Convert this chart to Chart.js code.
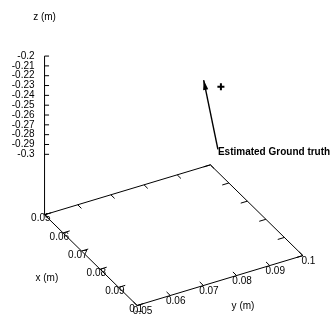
<!DOCTYPE html>
<html>
<head>
<meta charset="utf-8">
<script src="https://cdn.jsdelivr.net/npm/chart.js@4"></script>
<style>
  html, body { margin: 0; padding: 0; background: #fff; }
</style>
</head>
<body>
<canvas id="chart" width="333" height="327"></canvas>
<script>
// 축 눈금
const xTicks = [0.05, 0.06, 0.07, 0.08, 0.09, 0.1];
const yTicks = [0.05, 0.06, 0.07, 0.08, 0.09, 0.1];
const zTicks = [-0.2, -0.21, -0.22, -0.23, -0.24, -0.25, -0.26, -0.27, -0.28, -0.29, -0.3];

// 축 범위
const xRange = [0.05, 0.1];
const yRange = [0.05, 0.1];
const zRange = [-0.3, -0.2];
const zBase = -0.3615;

// 데이터 (x, y, z)
const arrowTail = [0.06, 0.0967, -0.324];
const arrowHead = [0.06, 0.0924, -0.249];
const estimated = [0.06, 0.0976, -0.261];
const arrowLabel = 'Estimated Ground truth';

// 시점 (3D -> 2D 투영)
const view = { ox: 40, oy: 216.7, xu: [96, 94.2], yu: [172, -51.8], zu: -1020 };

const FONT = '10px "Liberation Sans", Arial, sans-serif';

function project(x, y, z) {
  const nx = (x - xRange[0]) / (xRange[1] - xRange[0]);
  const ny = (y - yRange[0]) / (yRange[1] - yRange[0]);
  return {
    x: view.ox + nx * view.xu[0] + ny * view.yu[0],
    y: view.oy + nx * view.xu[1] + ny * view.yu[1] + (z - zBase) * view.zu
  };
}

// 바닥 사각형
const boxPoints = [
  project(xRange[0], yRange[0], zBase),
  project(xRange[1], yRange[0], zBase),
  project(xRange[1], yRange[1], zBase),
  project(xRange[0], yRange[1], zBase),
  project(xRange[0], yRange[0], zBase)
];

// z 축
const zAxisPoints = [
  project(xRange[0], yRange[0], zBase),
  project(xRange[0], yRange[0], zRange[1])
];

const arrowPoints = [project(...arrowTail), project(...arrowHead)];

// 눈금, 라벨, 화살촉 그리기
const axisPlugin = {
  id: 'axis3d',
  afterDatasetsDraw(chart) {
    const ctx = chart.ctx;
    const sx = chart.scales.x;
    const sy = chart.scales.y;
    const px = p => ({ x: sx.getPixelForValue(p.x), y: sy.getPixelForValue(p.y) });
    const dx = xRange[1] - xRange[0];
    const dy = yRange[1] - yRange[0];

    ctx.save();
    ctx.strokeStyle = '#000';
    ctx.fillStyle = '#000';
    ctx.lineWidth = 1;
    ctx.font = FONT;

    const seg = (a, b) => {
      const p = px(a), q = px(b);
      ctx.beginPath();
      ctx.moveTo(p.x, p.y);
      ctx.lineTo(q.x, q.y);
      ctx.stroke();
    };

    // z 눈금
    ctx.textAlign = 'right';
    ctx.textBaseline = 'middle';
    zTicks.forEach(t => {
      const p = px(project(xRange[0], yRange[0], t));
      ctx.beginPath();
      ctx.moveTo(p.x, p.y);
      ctx.lineTo(p.x + 4.5, p.y);
      ctx.stroke();
      ctx.fillText(String(t), p.x - 10, p.y);
    });

    // x 눈금
    xTicks.forEach(t => {
      seg(project(t, yRange[0], zBase), project(t, yRange[0] + 0.04 * dy, zBase));
      seg(project(t, yRange[1], zBase), project(t, yRange[1] - 0.04 * dy, zBase));
      const p = px(project(t, yRange[0], zBase));
      ctx.textAlign = 'right';
      ctx.fillText(String(t), p.x + 6, p.y + 4);
    });

    // y 눈금
    yTicks.forEach(t => {
      seg(project(xRange[1], t, zBase), project(xRange[1] - 0.04 * dx, t, zBase));
      seg(project(xRange[0], t, zBase), project(xRange[0] + 0.04 * dx, t, zBase));
      const p = px(project(xRange[1], t, zBase));
      ctx.textAlign = 'center';
      ctx.fillText(String(t), p.x + 5.5, p.y + 6);
    });

    // 축 제목
    ctx.textAlign = 'center';
    const zTop = px(project(xRange[0], yRange[0], zRange[1]));
    ctx.fillText('z (m)', zTop.x, zTop.y - 39);
    const xMid = px(project((xRange[0] + xRange[1]) / 2, yRange[0], zBase));
    ctx.fillText('x (m)', xMid.x - 44, xMid.y + 18);
    const yMid = px(project(xRange[1], (yRange[0] + yRange[1]) / 2, zBase));
    ctx.fillText('y (m)', yMid.x + 23, yMid.y + 26);

    // 화살촉
    const a = px(arrowPoints[0]);
    const b = px(arrowPoints[1]);
    const ang = Math.atan2(b.y - a.y, b.x - a.x);
    const len = 10, half = 2.6;
    const bx = b.x - len * Math.cos(ang), by = b.y - len * Math.sin(ang);
    ctx.beginPath();
    ctx.moveTo(b.x, b.y);
    ctx.lineTo(bx + half * Math.sin(ang), by - half * Math.cos(ang));
    ctx.lineTo(bx - half * Math.sin(ang), by + half * Math.cos(ang));
    ctx.closePath();
    ctx.fill();

    // 화살표 라벨
    ctx.font = 'bold ' + FONT;
    ctx.textAlign = 'left';
    ctx.fillText(arrowLabel, a.x, a.y + 3);
    ctx.restore();
  }
};

const lineStyle = { showLine: true, pointRadius: 0, borderColor: '#000', borderWidth: 1, fill: false };

new Chart(document.getElementById('chart'), {
  type: 'scatter',
  data: {
    datasets: [
      { label: 'box', data: boxPoints, ...lineStyle },
      { label: 'z axis', data: zAxisPoints, ...lineStyle },
      { label: 'Ground truth', data: arrowPoints, ...lineStyle, borderWidth: 1.4 },
      {
        label: 'Estimated',
        data: [project(...estimated)],
        pointStyle: 'cross',
        pointRadius: 3.5,
        borderWidth: 2,
        borderColor: '#000',
        backgroundColor: '#000'
      }
    ]
  },
  options: {
    responsive: false,
    animation: false,
    layout: { padding: 0 },
    scales: {
      x: { type: 'linear', min: 0, max: 333, display: false },
      y: { type: 'linear', min: 0, max: 327, reverse: true, display: false }
    },
    plugins: {
      legend: { display: false },
      tooltip: { enabled: false }
    }
  },
  plugins: [axisPlugin]
});
</script>
</body>
</html>
